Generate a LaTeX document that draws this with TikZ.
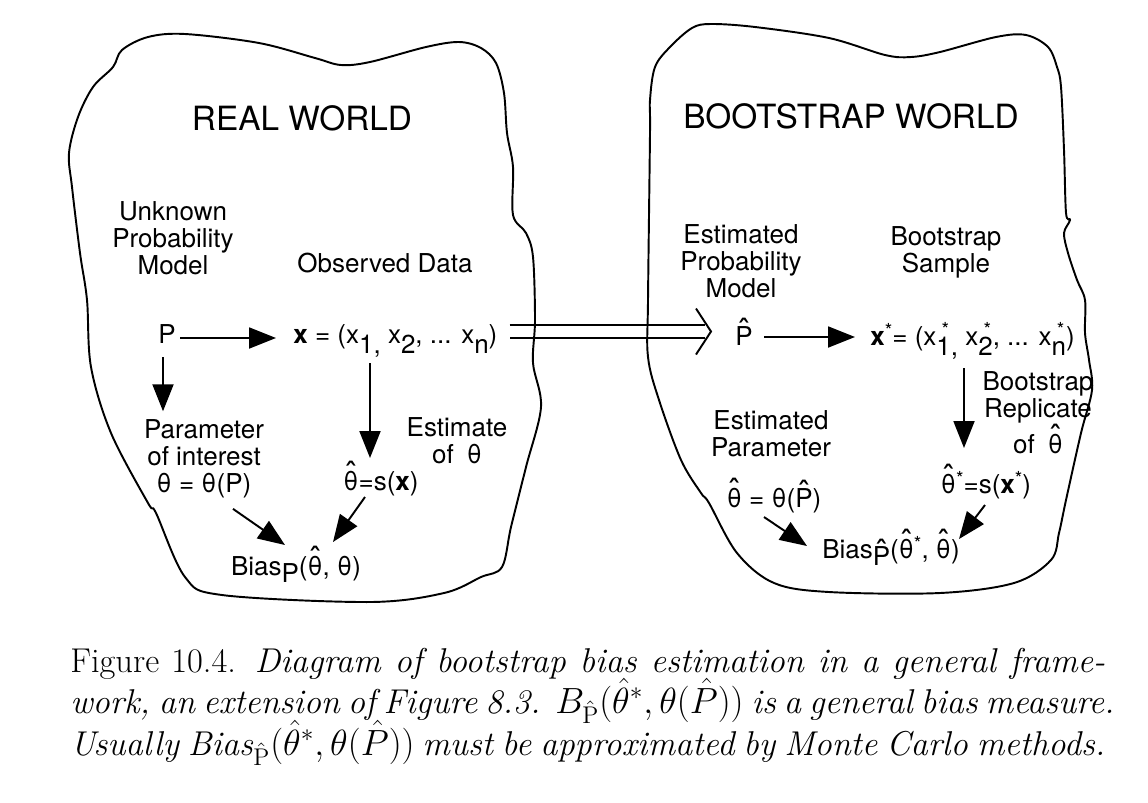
\documentclass[tikz,border=0pt]{standalone}
\usepackage{fontspec}
\usepackage{tikz}
\usetikzlibrary{calc,arrows.meta}
\newfontfamily\helv{TeX Gyre Heros}
\newcommand\hatt[2][0.16em]{\leavevmode\setbox0\hbox{#2}\makebox[\wd0]{\raisebox{#1}{\fontsize{19}{19}\selectfont\char"02C6}}\kern-\wd0\box0\relax}
\newcommand\lo[1]{\raisebox{-0.42em}{#1}}
\newcommand\up[1]{\raisebox{0.28em}{\fontsize{11}{11}\selectfont #1}}
\newcommand\lous[1]{\makebox[0pt][l]{\kern0.2em\raisebox{0.05em}{\up{*}}}\lo{#1}}

\begin{document}
\begin{tikzpicture}[x=0.02cm, y=-0.02cm,
	lbl/.style={inner sep=0pt, font=\helv\fontsize{14.8}{15.2}\selectfont, align=center},
	ttl/.style={inner sep=0pt, font=\helv\fontsize{19}{22}\selectfont},
	captionline/.style={inner sep=0pt, anchor=base west, font=\fontsize{19.6}{22}\selectfont},
	arr/.style={line width=1.1pt, -{Triangle[length=0.54cm,width=0.42cm]}},
	blob/.style={line width=1.1pt}]
	%%%%% START %%%%%
	\useasboundingbox (0,0) rectangle (1148,802);
	
	% real world
	\node[ttl, anchor=base] (realw) at (302,130) {REAL WORLD};
	\node[lbl, anchor=base] (unkm) at (173,274) {Unknown\\Probability\\Model};
	\node[lbl, anchor=base] (obs) at (385,272) {Observed Data};
	\node[lbl, anchor=base] (P) at (167,343) {P};
	\node[lbl, anchor=base west] (xdata) at (293,343) {\textbf{x} = (x\lo{1,} x\lo{2}, ... x\lo{n})};
	\node[lbl, anchor=base] (param) at (204,492) {Parameter\\of interest\\θ = θ(P)};
	\node[lbl, anchor=base] (est) at (457,463) {Estimate\\of\enspace θ};
	\node[lbl, anchor=base] (thetas) at (381,490) {\hatt{θ}=s(\textbf{x})};
	\node[lbl, anchor=base] (bias) at (296,575) {Bias\raisebox{-0.3em}{P}(\hatt{θ}, θ)};
	
	% bootstrap world
	\node[ttl, anchor=base] (bootw) at (851,128) {BOOTSTRAP WORLD};
	\node[lbl, anchor=base] (estpm) at (741,297) {Estimated\\Probability\\Model};
	\node[lbl, anchor=base] (bsamp) at (946,272) {Bootstrap\\Sample};
	\node[lbl, anchor=base] (Phat) at (744,345) {\hatt[0.1em]{P}};
	\node[lbl, anchor=base west] (xstar) at (870,345) {\textbf{x}\up{*}= (x\lous{1,} x\lous{2}, ... x\lous{n})};
	\node[lbl, anchor=base] (bsrep) at (1038,453) {Bootstrap\\Replicate\\of\enspace\hatt{θ}};
	\node[lbl, anchor=base] (estpar) at (771,456) {Estimated\\Parameter};
	\node[lbl, anchor=base] (thetap) at (774,507) {\hatt{θ} = θ(\hatt[0.08em]{P})};
	\node[lbl, anchor=base] (thstar) at (986,493) {\hatt{θ}\up{*}=s(\textbf{x}\up{*})};
	\node[lbl, anchor=base] (biasb) at (891,558) {Bias\raisebox{-0.3em}{\hatt[0.08em]{P}}(\hatt{θ}\up{*}, \hatt{θ})};
	
	% arrows, real world
	\draw[arr] ($(P.base)+(13,-5)$) -- ($(xdata.base west)+(-17,-5)$);
	\draw[arr] ($(P.base)+(-4,14)$) -- ($(param.north)+(-41,-8)$);
	\draw[arr] ($(xdata.base west)+(77,20)$) -- ($(thetas.base)+(-11,-32)$);
	\draw[arr] ($(param.south)+(29,11)$) -- ($(bias.base)+(-11,-30)$);
	\draw[arr] ($(thetas.base)+(-16,7)$) -- ($(bias.base)+(37,-33)$);
	
	% arrows, bootstrap world
	\draw[arr] ($(Phat.base)+(20,-8)$) -- ($(xstar.base west)+(-15,-8)$);
	\draw[arr] ($(xstar.base west)+(94,23)$) -- ($(thstar.base)+(-22,-45)$);
	\draw[arr] ($(thetap.base)+(-10,10)$) -- ($(biasb.base)+(-84,-12)$);
	\draw[arr] ($(thstar.base)+(-1,12)$) -- ($(biasb.base)+(68,-19)$);
	
	% from one world to the other
	\coordinate (imptip) at ($(Phat.base)+(-33,-13.5)$);
	\draw[line width=1.1pt, double, double distance=0.22cm] ($(xdata.base east)+(12,-11.5)$) -- ($(imptip)+(-6,0)$);
	\draw[line width=1.1pt] ($(imptip)+(-15,-23)$) -- (imptip) -- ($(imptip)+(-15,23)$);
	
	% the two worlds
	\draw[blob] plot[smooth cycle, tension=0.55] coordinates {(113,67) (122,50) (148,37) (185,34) (259,43) (315,58) (341,65) (370,62) (426,47) (459,42) (481,48) (496,63) (504,93) (507,133) (513,167) (513,215) (526,233) (533,257) (535,320) (533,363) (541,407) (526,467) (511,527) (502,567) (481,577) (444,593) (370,602) (222,595) (185,577) (156,513) (148,503) (111,433) (91,367) (87,300) (80,253) (72,187) (69,153) (78,117) (93,87)};
	\draw[blob] plot[smooth cycle, tension=0.55] coordinates {(650,100) (655,67) (670,47) (692,28) (711,24) (755,27) (829,38) (885,55) (911,57) (940,52) (996,37) (1026,35) (1048,47) (1057,67) (1061,87) (1064,150) (1066,213) (1070,220) (1064,233) (1068,253) (1077,280) (1085,300) (1085,333) (1089,360) (1092,390) (1081,433) (1066,500) (1059,533) (1051,560) (1014,583) (940,593) (829,592) (774,583) (737,553) (709,503) (701,493) (681,460) (659,400) (648,357) (648,300) (650,133)};
	
	% caption
	\node[captionline] (capa) at (70,672) {\makebox[20.7cm][s]{Figure 10.4. \textit{Diagram of bootstrap bias estimation in a general frame-}}};
	\node[captionline] (capb) at (70,713) {\makebox[20.7cm][s]{\textit{work, an extension of Figure 8.3. $B_{\hat{\mathrm{P}}}(\hat\theta^*,\theta(\hat P))$ is a general bias measure.}}};
	\node[captionline] (capc) at (70,755) {\makebox[20.7cm][s]{\textit{Usually Bias}$_{\hat{\mathrm{P}}}(\hat\theta^*,\theta(\hat P))$ \textit{must be approximated by Monte Carlo methods.}}};
	%%%%% END %%%%%
\end{tikzpicture}
\end{document}
